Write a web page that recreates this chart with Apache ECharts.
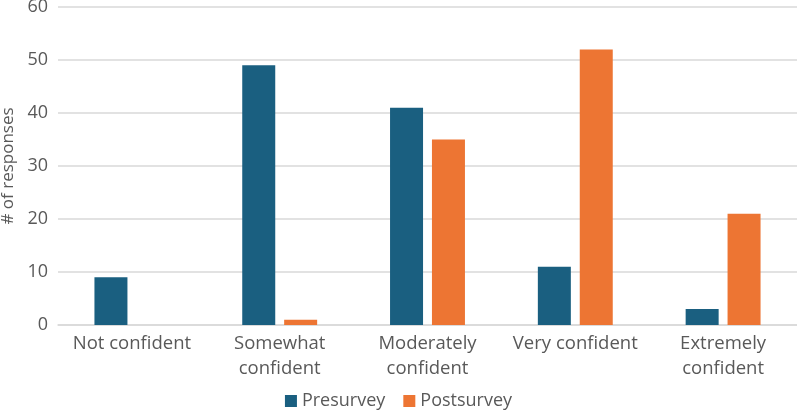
<!DOCTYPE html>
<html>
<head>
  <meta charset="utf-8">
  <title>Confidence survey</title>
  <script src="https://cdn.jsdelivr.net/npm/echarts/dist/echarts.min.js"></script>
  <style>
    html, body { margin: 0; padding: 0; background: #fff; }
    #chart { width: 797px; height: 411px; }
  </style>
</head>
<body>
  <div id="chart"></div>
  <script>
    // data
    const categories = ['Not confident', 'Somewhat\nconfident', 'Moderately\nconfident', 'Very confident', 'Extremely\nconfident'];
    const presurvey = [9, 49, 41, 11, 3];
    const postsurvey = [0, 1, 35, 52, 21];

    const textColor = '#595959';
    const chart = echarts.init(document.getElementById('chart'));

    chart.setOption({
      animation: false,
      textStyle: { fontFamily: 'Open Sans', color: textColor },
      grid: { left: 58, right: 0, top: 7, bottom: 86, containLabel: false, outerBoundsMode: 'none' },
      legend: {
        top: 387,
        left: 'center',
        itemWidth: 12,
        itemHeight: 12,
        itemGap: 18,
        icon: 'rect',
        textStyle: { fontSize: 18, color: textColor },
        data: ['Presurvey', 'Postsurvey']
      },
      xAxis: {
        type: 'category',
        data: categories,
        axisTick: { show: false },
        axisLine: { lineStyle: { color: '#d9d9d9', width: 1.5 } },
        axisLabel: { interval: 0, fontSize: 18.5, color: textColor, lineHeight: 25, margin: 6 }
      },
      yAxis: {
        type: 'value',
        min: 0,
        max: 60,
        interval: 10,
        name: '# of responses',
        nameLocation: 'middle',
        nameGap: 40,
        nameTextStyle: { fontSize: 17, color: textColor },
        axisLabel: { fontSize: 18, color: textColor, margin: 10 },
        splitLine: { lineStyle: { color: '#d9d9d9', width: 1.5 } }
      },
      series: [
        {
          name: 'Presurvey',
          type: 'bar',
          data: presurvey,
          barWidth: 33,
          barGap: '27%',
          itemStyle: { color: '#1a5f80' }
        },
        {
          name: 'Postsurvey',
          type: 'bar',
          data: postsurvey,
          barWidth: 33,
          itemStyle: { color: '#ed7533' }
        }
      ]
    });
  </script>
</body>
</html>
